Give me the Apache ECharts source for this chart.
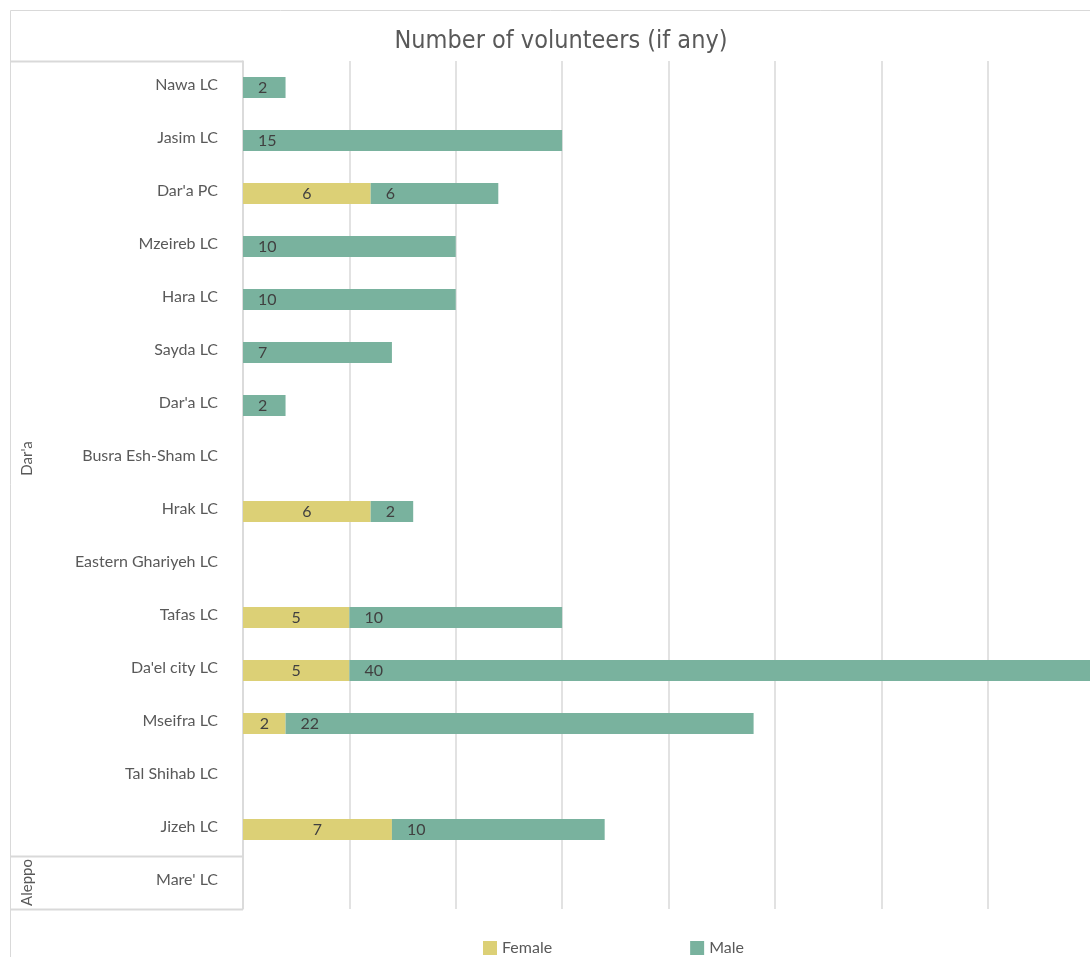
<!DOCTYPE html>
<html>
<head>
<meta charset="utf-8">
<script src="https://cdn.jsdelivr.net/npm/echarts@6/dist/echarts.min.js"></script>
<style>
html,body{margin:0;padding:0;background:#fff;}
#chart{width:1090px;height:957px;}
</style>
</head>
<body>
<div id="chart"></div>
<script>
const categories = ["Nawa LC","Jasim LC","Dar'a PC","Mzeireb LC","Hara LC","Sayda LC","Dar'a LC","Busra Esh-Sham LC","Hrak LC","Eastern Ghariyeh LC","Tafas LC","Da'el city LC","Mseifra LC","Tal Shihab LC","Jizeh LC","Mare' LC"];
const female = [null,null,6,null,null,null,null,null,6,null,5,5,2,null,7,null];
const male   = [2,15,6,10,10,7,2,null,2,null,10,40,22,null,10,null];
const groups = [{name:"Dar'a", count:15},{name:"Aleppo", count:1}];

const FONT = "Lato, 'Open Sans', sans-serif";
const chart = echarts.init(document.getElementById('chart'));

const gridLeft = 243, gridTop = 61, gridBottomY = 909;
const band = (gridBottomY - gridTop) / categories.length;
const graphics = [
  {type:'rect', shape:{x:10.5,y:10.5,width:1200,height:1200}, style:{fill:'none',stroke:'#d9d9d9',lineWidth:1}, silent:true},
  {type:'line', shape:{x1:10,y1:gridTop+0.5,x2:gridLeft,y2:gridTop+0.5}, style:{stroke:'#d9d9d9',lineWidth:2}, silent:true}
];
let idx = 0;
groups.forEach(g => {
  const y0 = gridTop + idx*band, y1 = gridTop + (idx+g.count)*band;
  graphics.push({type:'line', shape:{x1:10,y1:Math.round(y1)+0.5,x2:gridLeft,y2:Math.round(y1)+0.5}, style:{stroke:'#d9d9d9',lineWidth:2}, silent:true});
  graphics.push({type:'text', x:27, y:(y0+y1)/2, rotation:Math.PI/2,
    style:{text:g.name, fill:'#595959', font:'15px '+FONT, align:'center', verticalAlign:'middle'}, silent:true});
  idx += g.count;
});

chart.setOption({
  animation:false,
  backgroundColor:'#fff',
  title:{text:'Number of volunteers (if any)', left:556, textAlign:'center', top:24,
    textStyle:{fontFamily:"'Liberation Sans Narrow','DejaVu Sans Condensed',Lato,sans-serif", fontSize:25, fontWeight:'normal', color:'#595959'}},
  legend:{top:935, left:478, itemWidth:14, itemHeight:14, itemGap:138, icon:'rect',
    textStyle:{fontFamily:FONT, fontSize:16, color:'#595959'},
    data:['Female','Male']},
  grid:{left:gridLeft, width:851, top:gridTop, bottom:957-gridBottomY, containLabel:false, outerBoundsMode:'none'},
  xAxis:{type:'value', min:0, max:40, interval:5,
    axisLabel:{show:false}, axisLine:{show:false}, axisTick:{show:false},
    splitLine:{show:true, lineStyle:{color:'#d9d9d9', width:1.5}}},
  yAxis:{type:'category', data:categories, inverse:true,
    axisLine:{show:true, lineStyle:{color:'#d9d9d9', width:1.5}},
    axisTick:{show:false},
    axisLabel:{color:'#595959', fontSize:16, fontFamily:FONT, margin:25,
      formatter: v => '{a|' + v + '}',
      rich:{a:{color:'#595959', fontSize:16, fontFamily:FONT, padding:[0,0,5,0]}}}},
  series:[
    {name:'Female', type:'bar', stack:'t', data:female, barWidth:21,
      itemStyle:{color:'#DCD076'},
      label:{show:true, position:'inside', color:'#404040', fontSize:16, fontFamily:FONT}},
    {name:'Male', type:'bar', stack:'t', data:male, barWidth:21,
      itemStyle:{color:'#79B29E'},
      label:{show:true, position:'insideLeft', distance:15, color:'#404040', fontSize:16, fontFamily:FONT}}
  ],
  graphic:graphics
});
</script>
</body>
</html>
